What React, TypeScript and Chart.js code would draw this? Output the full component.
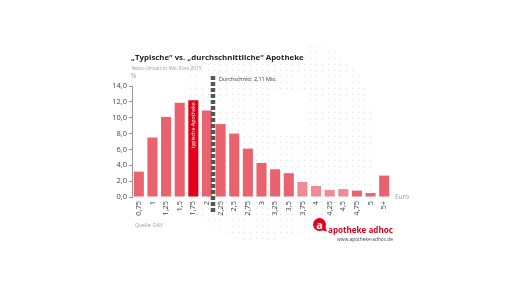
import React, { useEffect, useRef } from 'react';
import { Chart, registerables } from 'chart.js';

Chart.register(...registerables);

// ---- data ----
const categories = ['0,75', '1', '1,25', '1,5', '1,75', '2', '2,25', '2,5', '2,75', '3', '3,25', '3,5', '3,75', '4', '4,25', '4,5', '4,75', '5', '5+'];
const shares = [3.2, 7.5, 10.1, 11.9, 12.2, 10.9, 9.2, 8.0, 6.1, 4.3, 3.5, 3.0, 1.9, 1.4, 0.9, 1.0, 0.8, 0.5, 2.7];
const yTicks = [0, 2, 4, 6, 8, 10, 12, 14];
const firstBinMio = 0.75;
const binStepMio = 0.25;
const averageMio = 2.11;
const typicalIndex = 4;
const lightIndices = [12, 13, 14, 15];

const titleText = '\u201ETypische\u201C vs. \u201Edurchschnittliche\u201C Apotheke';
const subtitleText = 'Netto-Umsatz in Mio. Euro 2015';
const averageLabel = 'Durchschnitt: 2,11 Mio.';
const typicalLabel = 'typische Apotheke';
const sourceText = 'Quelle: DAV';

const FAMILY = '"Open Sans", "DejaVu Sans", sans-serif';
const MAIN = '#e9636f';
const LIGHT = '#f08b96';
const RED = '#e3001b';

function fitFont(ctx: CanvasRenderingContext2D, text: string, weight: string, targetW: number) {
  const base = 12;
  ctx.font = `${weight} ${base}px ${FAMILY}`;
  const w = ctx.measureText(text).width;
  const size = (base * targetW) / w;
  ctx.font = `${weight} ${size}px ${FAMILY}`;
}

function inDotShape(x: number, y: number) {
  if (x < 190 || y < 46 || y > 238) return false;
  if (x < 306 && y < 58) return false;
  if (x < 305 && x > 270 && y > 90 && y < 135) return false;
  if (x > 290 && y < 120) return Math.hypot(x - 290, y - 120) < 82;
  if (y > 200) return Math.hypot(x - 260, y - 140) < 100;
  return x <= 372;
}

const deco = {
  id: 'deco',
  beforeDraw(chart: any) {
    const ctx: CanvasRenderingContext2D = chart.ctx;
    ctx.save();
    ctx.fillStyle = '#ffffff';
    ctx.fillRect(0, 0, chart.width, chart.height);
    ctx.fillStyle = '#dcdcdc';
    for (let y = 46; y <= 240; y += 6) {
      for (let x = 190; x <= 380; x += 6) {
        if (inDotShape(x, y)) ctx.fillRect(x, y, 1, 1);
      }
    }
    ctx.restore();
  },
  afterDatasetsDraw(chart: any) {
    const ctx: CanvasRenderingContext2D = chart.ctx;
    const xs = chart.scales.x;
    const ys = chart.scales.y;
    ctx.save();
    // label inside typical bar
    const meta = chart.getDatasetMeta(0);
    const bar = meta.data[typicalIndex];
    ctx.translate(bar.x, bar.y + 2);
    ctx.rotate(-Math.PI / 2);
    ctx.fillStyle = '#ffffff';
    ctx.textAlign = 'right';
    ctx.textBaseline = 'middle';
    fitFont(ctx, typicalLabel, '400', 46);
    ctx.fillText(typicalLabel, 0, 0);
    ctx.restore();

    // average dashed line
    const idx = (averageMio - firstBinMio) / binStepMio;
    const ax = xs.getPixelForValue(idx);
    ctx.save();
    ctx.strokeStyle = '#555555';
    ctx.lineWidth = 4.5;
    ctx.setLineDash([4, 2]);
    ctx.beginPath();
    ctx.moveTo(ax, ys.top - 10);
    ctx.lineTo(ax, ys.bottom + 17);
    ctx.stroke();
    ctx.setLineDash([]);
    ctx.fillStyle = '#333333';
    ctx.textAlign = 'left';
    ctx.textBaseline = 'alphabetic';
    fitFont(ctx, averageLabel, '400', 58);
    ctx.fillText(averageLabel, ax + 6, ys.top - 5);
    ctx.restore();
  },
  afterDraw(chart: any) {
    const ctx: CanvasRenderingContext2D = chart.ctx;
    const ys = chart.scales.y;
    const xs = chart.scales.x;
    ctx.save();
    ctx.textAlign = 'left';
    ctx.textBaseline = 'alphabetic';
    // title
    ctx.fillStyle = '#222222';
    fitFont(ctx, titleText, '700', 173);
    ctx.fillText(titleText, 131, 59.5);
    // subtitle
    ctx.fillStyle = '#9a9a9a';
    fitFont(ctx, subtitleText, '400', 70);
    ctx.fillText(subtitleText, 131.5, 69.5);
    // % unit
    ctx.font = `400 6.5px ${FAMILY}`;
    ctx.fillText('%', 131, ys.top - 8);
    // Euro unit
    ctx.font = `400 6.5px ${FAMILY}`;
    ctx.fillText('Euro', xs.right + 4, ys.bottom + 2);
    // source
    fitFont(ctx, sourceText, '400', 28);
    ctx.fillText(sourceText, 135, 227);

    // logo
    ctx.fillStyle = RED;
    ctx.beginPath();
    ctx.arc(319.5, 224.5, 6.5, 0, Math.PI * 2);
    ctx.fill();
    ctx.beginPath();
    ctx.moveTo(321, 230);
    ctx.lineTo(327, 231.5);
    ctx.lineTo(325, 226);
    ctx.closePath();
    ctx.fill();
    ctx.fillStyle = '#ffffff';
    ctx.textAlign = 'center';
    ctx.font = `700 11px ${FAMILY}`;
    ctx.fillText('a', 319.5, 228.5);
    ctx.fillStyle = RED;
    ctx.textAlign = 'left';
    fitFont(ctx, 'apotheke adhoc', '700', 65);
    ctx.fillText('apotheke adhoc', 328, 233);
    ctx.fillStyle = '#444444';
    ctx.textAlign = 'right';
    fitFont(ctx, 'www.apotheke-adhoc.de', '400', 56);
    ctx.fillText('www.apotheke-adhoc.de', 393, 240.5);
    ctx.restore();
  },
};

export default function App() {
  const ref = useRef<HTMLCanvasElement>(null);
  useEffect(() => {
    const canvas = ref.current!;
    const chart = new Chart(canvas, {
      type: 'bar',
      data: {
        labels: categories,
        datasets: [
          {
            data: shares,
            backgroundColor: shares.map((_, i) => (i === typicalIndex ? RED : lightIndices.includes(i) ? LIGHT : MAIN)),
            barPercentage: 0.74,
            categoryPercentage: 1,
          },
        ],
      },
      options: {
        animation: false,
        responsive: false,
        devicePixelRatio: 1,
        layout: { padding: { left: 0, right: 125, top: 86, bottom: 73 } },
        plugins: { legend: { display: false }, tooltip: { enabled: false } },
        scales: {
          x: {
            grid: { display: false, drawTicks: false },
            border: { display: false },
            ticks: {
              autoSkip: false,
              minRotation: 90,
              maxRotation: 90,
              padding: 4,
              color: '#444444',
              font: { family: FAMILY, size: 7.5 },
            },
            afterFit: (s: any) => {
              s.height = 20;
            },
          },
          y: {
            min: 0,
            max: 14,
            afterBuildTicks: (s: any) => {
              s.ticks = yTicks.map((v) => ({ value: v }));
            },
            grid: { drawOnChartArea: false, tickLength: 3, color: '#999999' },
            border: { color: '#999999' },
            ticks: {
              padding: 2,
              color: '#444444',
              font: { family: FAMILY, size: 7.5 },
              callback: (v: any) => Number(v).toFixed(1).replace('.', ','),
            },
            afterFit: (s: any) => {
              s.width = 132;
            },
          },
        },
      },
      plugins: [deco],
    });
    return () => chart.destroy();
  }, []);
  return (
    <div style={{ position: 'fixed', left: 0, top: 0, width: 516, height: 290, background: '#ffffff' }}>
      <canvas ref={ref} width={516} height={290} style={{ display: 'block', width: 516, height: 290 }} />
    </div>
  );
}
